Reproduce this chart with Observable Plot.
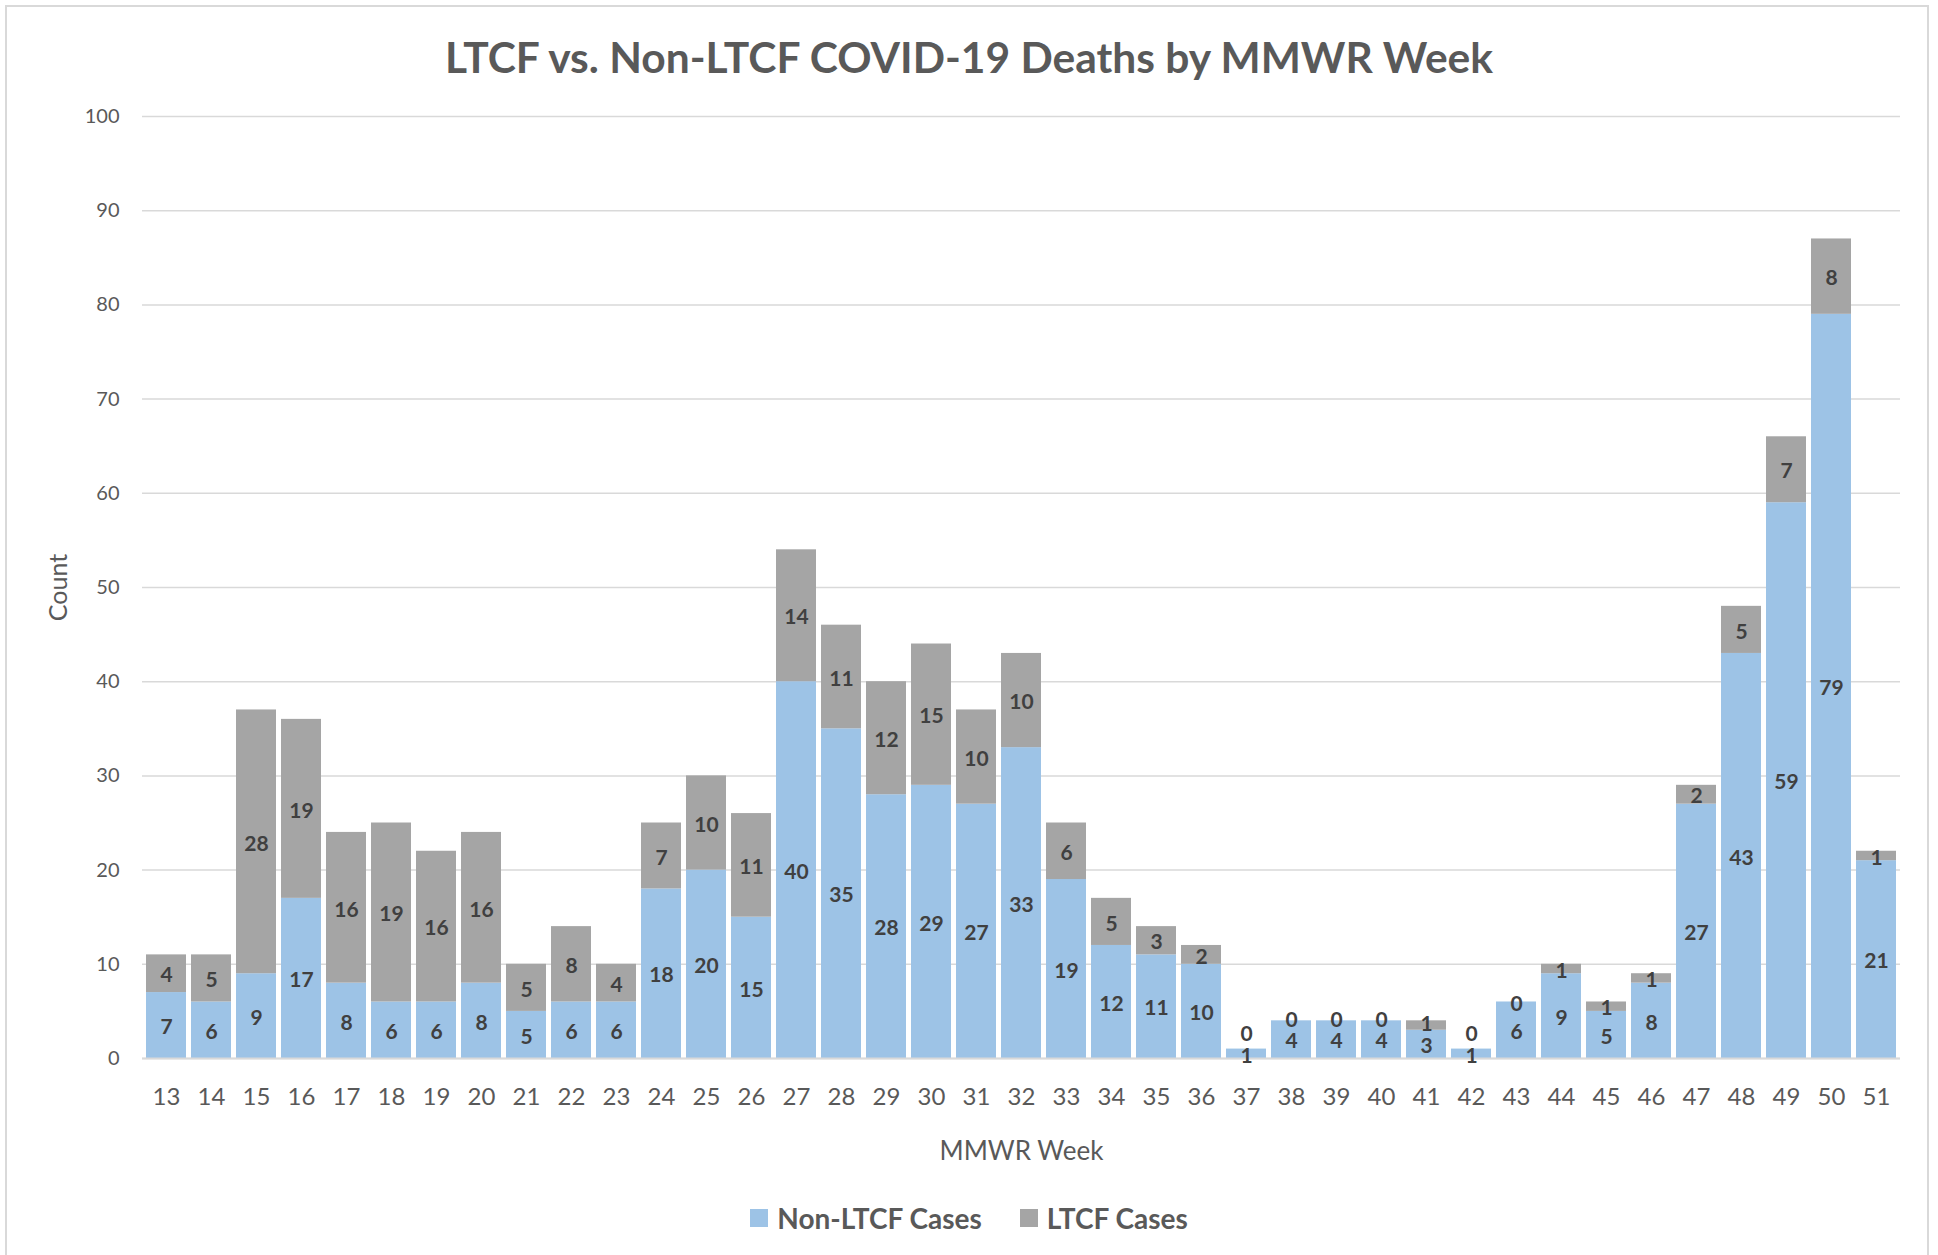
<!DOCTYPE html>
<html>
<head>
<meta charset="utf-8">
<script src="https://cdn.jsdelivr.net/npm/d3@7"></script>
<script src="https://cdn.jsdelivr.net/npm/@observablehq/plot@0.6"></script>
<style>
  html, body { margin: 0; padding: 0; background: #fff; }
  body { width: 1938px; height: 1255px; overflow: hidden; position: relative; font-family: Lato, "Open Sans", sans-serif; }
  #frame { position: absolute; left: 5px; top: 5px; width: 1924px; height: 1260px; border: 2px solid #d9d9d9; box-sizing: border-box; pointer-events: none; }
  #title { position: absolute; left: 0; top: 0; width: 1938px; height: 96px; display: flex; align-items: center; justify-content: center; padding-top: 16px; box-sizing: border-box; font-weight: 700; font-size: 42.5px; color: #595959; }
  #chart { position: absolute; left: 0; top: 96px; }
  #legend { position: absolute; left: 0; top: 1201px; width: 1938px; display: flex; justify-content: center; align-items: center; font-weight: 700; font-size: 28px; color: #595959; }
  .item { display: flex; align-items: center; margin: 0 19px; }
  .sw { width: 18px; height: 18px; margin-right: 9px; }
  #chart svg g[aria-label="x-axis tick label"] { font-size: 24px; }
  #chart svg g[aria-label="y-axis tick label"] { font-size: 20px; }
</style>
</head>
<body>
<div id="title">LTCF vs. Non-LTCF COVID-19 Deaths by MMWR Week</div>
<div id="chart"></div>
<div id="legend"></div>
<div id="frame"></div>
<script>
const weeks = [13,14,15,16,17,18,19,20,21,22,23,24,25,26,27,28,29,30,31,32,33,34,35,36,37,38,39,40,41,42,43,44,45,46,47,48,49,50,51];
const nonLtcf = [7,6,9,17,8,6,6,8,5,6,6,18,20,15,40,35,28,29,27,33,19,12,11,10,1,4,4,4,3,1,6,9,5,8,27,43,59,79,21];
const ltcf = [4,5,28,19,16,19,16,16,5,8,4,7,10,11,14,11,12,15,10,10,6,5,3,2,0,0,0,0,1,0,0,1,1,1,2,5,7,8,1];
const seriesNames = ["Non-LTCF Cases", "LTCF Cases"];
const seriesColors = ["#9dc3e6", "#a5a5a5"];
const yTicks = [0,10,20,30,40,50,60,70,80,90,100];
const xTitle = "MMWR Week";
const yTitle = "Count";

const rows = [];
weeks.forEach((w, i) => {
  const n = nonLtcf[i], l = ltcf[i];
  const nMid = n / 2;
  let lMid = n + l / 2;
  if (lMid - nMid < 2.3) lMid = nMid + 2.3;
  rows.push({week: String(w), series: seriesNames[0], value: n, y1: 0, y2: n, mid: nMid});
  rows.push({week: String(w), series: seriesNames[1], value: l, y1: n, y2: n + l, mid: lMid});
});

const chart = Plot.plot({
  width: 1938,
  height: 1080,
  marginLeft: 142,
  marginRight: 38,
  marginTop: 20,
  marginBottom: 118,
  style: { fontFamily: "Lato, 'Open Sans', sans-serif", color: "#595959", background: "transparent" },
  x: { type: "band", domain: weeks.map(String), paddingInner: 0.12, paddingOuter: 0.06, label: null },
  y: { domain: [0, 100], label: null },
  color: { domain: seriesNames, range: seriesColors },
  marks: [
    Plot.gridY(yTicks, { stroke: "#d9d9d9", strokeOpacity: 1, strokeWidth: 1.5 }),
    Plot.barY(rows, { x: "week", y1: "y1", y2: "y2", fill: "series", inset: 0 }),
    Plot.ruleY([0], { stroke: "#d9d9d9", strokeWidth: 2 }),
    Plot.text(rows, { x: "week", y: "mid", text: d => String(d.value), fill: "#404040", fontWeight: "bold", fontSize: 21, dy: 2 }),
    Plot.axisX({ tickSize: 0, tickPadding: 29, fill: "#595959" }),
    Plot.axisY(yTicks, { tickSize: 0, tickPadding: 23, fill: "#595959", anchor: "left" }),
    Plot.text([xTitle], { frameAnchor: "bottom", dy: 101, text: d => d, fontSize: 26, fill: "#595959" }),
    Plot.text([yTitle], { frameAnchor: "left", dx: -84, rotate: -90, textAnchor: "middle", text: d => d, fontSize: 25, fill: "#595959" })
  ]
});
document.getElementById("chart").appendChild(chart);

const legend = document.getElementById("legend");
seriesNames.forEach((name, i) => {
  const item = document.createElement("div");
  item.className = "item";
  const sw = document.createElement("div");
  sw.className = "sw";
  sw.style.background = seriesColors[i];
  const label = document.createElement("span");
  label.textContent = name;
  item.appendChild(sw);
  item.appendChild(label);
  legend.appendChild(item);
});
</script>
</body>
</html>
